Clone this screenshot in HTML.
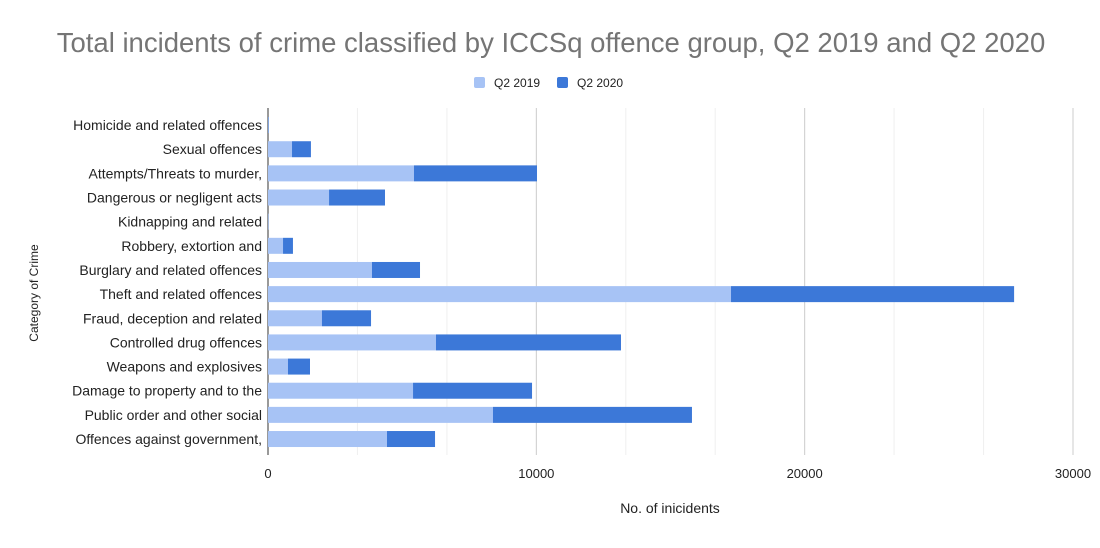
<!DOCTYPE html>
<html><head><meta charset="utf-8"><style>
body{margin:0;background:#fff;font-family:"Liberation Sans",Arial,sans-serif}
svg text{font-family:"Liberation Sans",Arial,sans-serif}
</style></head><body>
<svg id="chart" width="1100" height="543">
<rect width="1100" height="543" fill="#fff"/>
<text x="551" y="52" text-anchor="middle" font-size="27.5" fill="#757575">Total incidents of crime classified by ICCSq offence group, Q2 2019 and Q2 2020</text>
<g>
<rect x="474" y="77" width="11" height="11" rx="2" fill="#a7c3f5"/>
<text x="494" y="87" font-size="12" fill="#222">Q2 2019</text>
<rect x="557" y="77" width="11" height="11" rx="2" fill="#3c78d8"/>
<text x="577" y="87" font-size="12" fill="#222">Q2 2020</text>
</g>
<g id="grid"></g><g id="bars"></g><g id="labels"></g>
<text x="670" y="513" text-anchor="middle" font-size="14" fill="#222">No. of inicidents</text>
<text transform="translate(38,293) rotate(-90)" text-anchor="middle" font-size="12" fill="#222">Category of Crime</text>
</svg>
<script>
const categories=["Homicide and related offences","Sexual offences","Attempts/Threats to murder,","Dangerous or negligent acts","Kidnapping and related","Robbery, extortion and","Burglary and related offences","Theft and related offences","Fraud, deception and related","Controlled drug offences","Weapons and explosives","Damage to property and to the","Public order and other social","Offences against government,"];
const q2019=[15,895,5440,2275,10,560,3875,17255,2010,6260,745,5405,8385,4435];
const q2020=[15,705,4585,2085,10,370,1790,10550,1830,6895,820,4435,7415,1790];
const majorTicks=[0,10000,20000,30000];
const minorTicks=[3333,6667,13333,16667,23333,26667];
const NS="http://www.w3.org/2000/svg";
const x0=268,pxPer=(1073-268)/30000,plotTop=113,rowH=24.15,barH=16,plotBottom=455;
const xs=v=>x0+v*pxPer;
const yc=i=>plotTop+rowH*(i+0.5);
function mk(tag,attrs,parent){const e=document.createElementNS(NS,tag);for(const k in attrs)e.setAttribute(k,attrs[k]);document.getElementById(parent).appendChild(e);return e;}
minorTicks.forEach(t=>{const l=mk('line',{x1:xs(t),x2:xs(t),y1:108,y2:plotBottom,stroke:'#efefef'},'grid');

});
majorTicks.forEach(t=>{if(t>0){const l=mk('line',{x1:xs(t),x2:xs(t),y1:108,y2:plotBottom,stroke:'#cccccc'},'grid');

}
const tx=mk('text',{x:xs(t),y:478,'text-anchor':'middle','font-size':13,fill:'#222'},'labels');tx.textContent=t;

});
categories.forEach((c,i)=>{
const a=mk('rect',{x:xs(0),y:yc(i)-barH/2,width:xs(q2019[i])-xs(0),height:barH,fill:'#a7c3f5'},'bars');


const b=mk('rect',{x:xs(q2019[i]),y:yc(i)-barH/2,width:xs(q2019[i]+q2020[i])-xs(q2019[i]),height:barH,fill:'#3c78d8'},'bars');


const t=mk('text',{x:262,y:yc(i)+5,'text-anchor':'end','font-size':14,fill:'#222'},'labels');t.textContent=c;

});
const ax=mk('line',{x1:x0,x2:x0,y1:108,y2:plotBottom,stroke:'#333'},'grid');


</script>
</body></html>
